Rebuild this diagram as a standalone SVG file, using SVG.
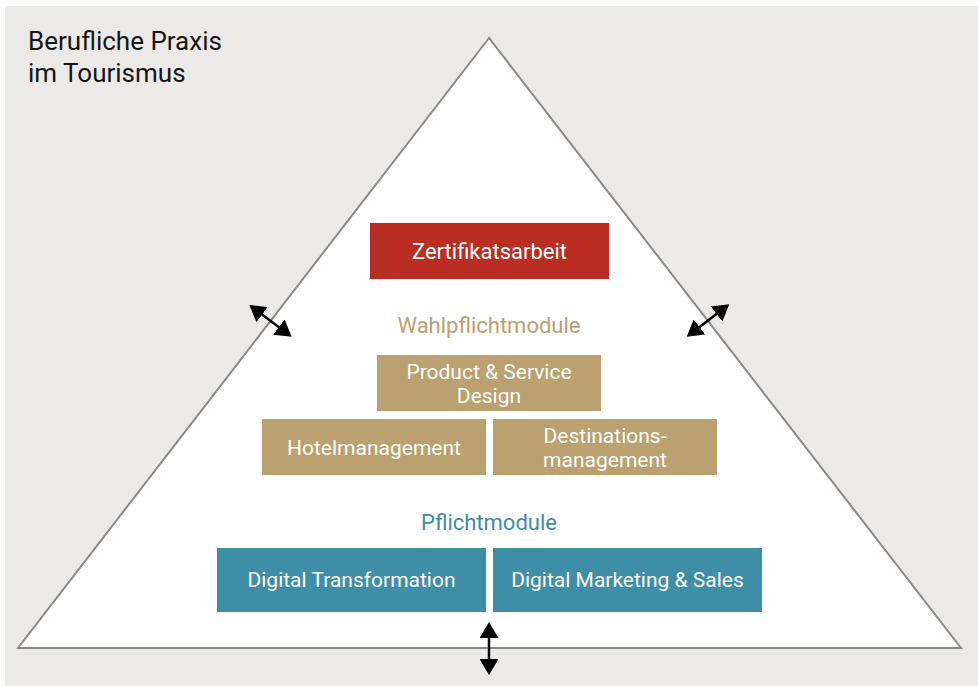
<svg xmlns="http://www.w3.org/2000/svg" width="978" height="686" viewBox="0 0 978 686">
<defs>
<style>
text{font-family:Roboto,"Liberation Sans",sans-serif;}
.box text{fill:#fff;font-size:21px;text-anchor:middle;}
.lbl{font-size:22px;text-anchor:middle;}
.conn line{stroke:#000;stroke-width:2.5;marker-start:url(#ah);marker-end:url(#ah);}
</style>
<marker id="ah" viewBox="0 0 16 19" refX="13" refY="9.5" markerWidth="6.4" markerHeight="7.6" orient="auto-start-reverse" markerUnits="strokeWidth">
<path d="M0,0 L16,9.5 L0,19 z" fill="#000"/>
</marker>
</defs>
<rect x="5" y="6" width="973" height="680" fill="#EBEAE8"/>
<polygon points="489,38 18,648 961,648" fill="#fff" stroke="#8A8A88" stroke-width="2"/>
<g id="title"><text x="28" y="50" font-size="26" fill="#151515">Berufliche Praxis</text><text x="28" y="82" font-size="26" fill="#151515">im Tourismus</text></g>
<g id="zertifikatsarbeit" class="box"><rect x="370" y="223" width="239" height="56" fill="#B92D22"/><text x="489.5" y="259" style="font-size:22px">Zertifikatsarbeit</text></g>
<g id="wahlpflicht"><text class="lbl" x="489" y="333" fill="#BBA070">Wahlpflichtmodule</text></g>
<g id="product" class="box"><rect x="377" y="355" width="224" height="56" fill="#BBA070"/><text x="489" y="379">Product &amp; Service</text><text x="489" y="403">Design</text></g>
<g id="hotel" class="box"><rect x="262" y="419" width="224" height="56" fill="#BBA070"/><text x="374" y="455">Hotelmanagement</text></g>
<g id="destinations" class="box"><rect x="493" y="419" width="224" height="56" fill="#BBA070"/><text x="605" y="443">Destinations-</text><text x="605" y="467">management</text></g>
<g id="pflicht"><text class="lbl" x="489" y="530" fill="#3E8EA8">Pflichtmodule</text></g>
<g id="digitaltransformation" class="box"><rect x="217" y="548" width="269" height="64" fill="#3E8EA8"/><text x="351.5" y="587">Digital Transformation</text></g>
<g id="digitalmarketing" class="box"><rect x="493" y="548" width="269" height="64" fill="#3E8EA8"/><text x="627.5" y="587">Digital Marketing &amp; Sales</text></g>
<g id="connectors" class="conn">
<line x1="251.7" y1="306.8" x2="289.3" y2="334.9"/>
<line x1="726.9" y1="306.1" x2="689.1" y2="334.9"/>
<line x1="489" y1="625" x2="489" y2="672"/>
</g>
</svg>
